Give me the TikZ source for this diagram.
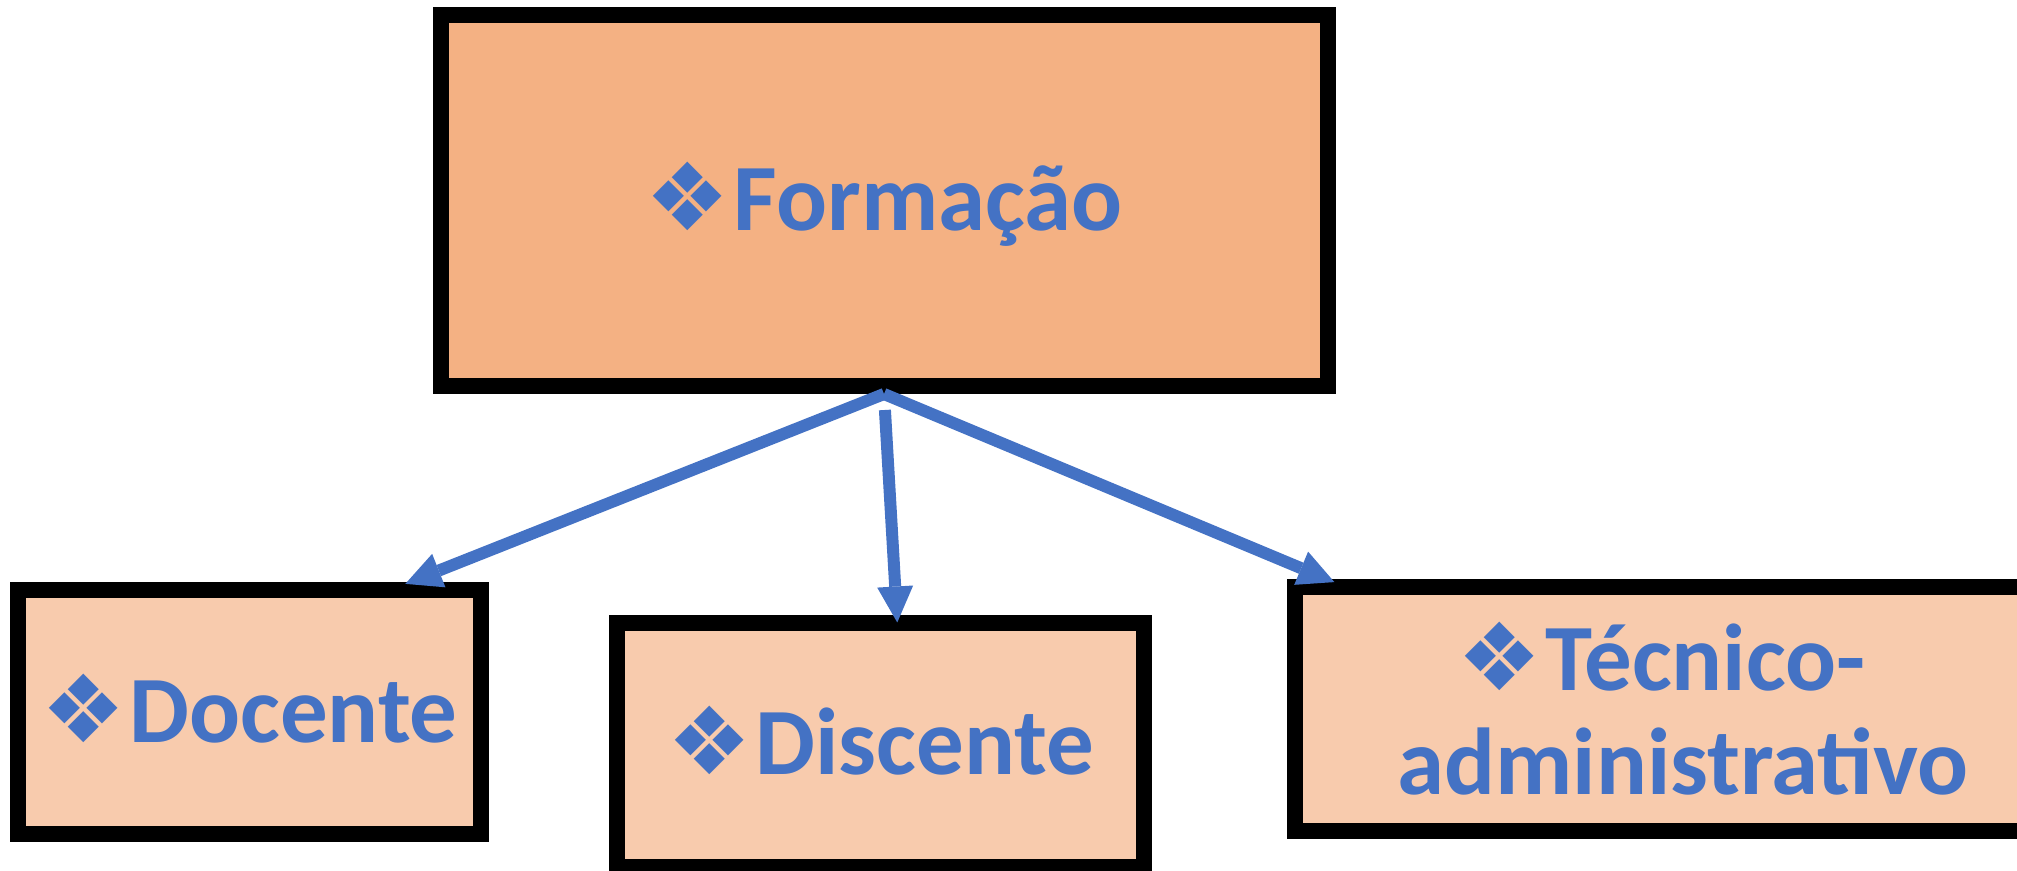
\documentclass[tikz,border=0pt]{standalone}
\usepackage{fontspec}
\setmainfont{Carlito}
\newfontfamily\dingfont{DejaVu Sans}
\usetikzlibrary{calc,arrows.meta}

\definecolor{formfill}{HTML}{F4B183}
\definecolor{catfill}{HTML}{F8CBAD}
\definecolor{txtblue}{HTML}{4472C4}

\newcommand{\dmd}{{\dingfont\fontsize{94}{94}\selectfont ❖}\hspace{4pt}}

\tikzset{
  box/.style={draw=black, line width=16pt, inner sep=0pt, text=txtblue,
    font=\bfseries\fontsize{95}{104}\selectfont},
  topbox/.style={box, fill=formfill, minimum width=887pt, minimum height=371pt},
  catbox/.style={box, fill=catfill, minimum height=244pt},
  oneline/.style={text height=60pt, text depth=0pt},
  arr/.style={draw=txtblue, line width=12pt,
    -{Triangle[length=36pt,width=36pt,line width=0pt]}}
}

\begin{document}
\begin{tikzpicture}[x=1pt,y=-1pt]

\def\xf{884}; % top box
\def\yf{200.5};
\def\ydoc{712}; % docente
\def\ydis{744.5}; % discente
\def\ytec{709}; % tecnico

\useasboundingbox (0,0) rectangle (2017,870);

\node[topbox, oneline] (form) at (\xf, \yf) {\dmd Formação};

\node[catbox, oneline, minimum width=463pt] (doc) at (249.5, \ydoc) {\dmd Docente};
\node[catbox, oneline, minimum width=527pt] (dis) at (880.5, \ydis) {\dmd Discente};
\node[catbox, minimum width=776pt, align=center] (tec) at (1683, \ytec)
  {\dmd Técnico-\hspace*{43pt}\\administrativo};

\draw[arr, shorten >=-5pt] (form.south) -- ($(doc.north)!0.67!(doc.north east)$);
\draw[arr, shorten <=16pt, shorten >=-8pt] (form.south) -- ($(dis.north west)!0.53!(dis.north east)$);
\draw[arr, shorten >=-8pt] (form.south) -- ($(tec.north west)+(40,0)$);

\end{tikzpicture}
\end{document}
